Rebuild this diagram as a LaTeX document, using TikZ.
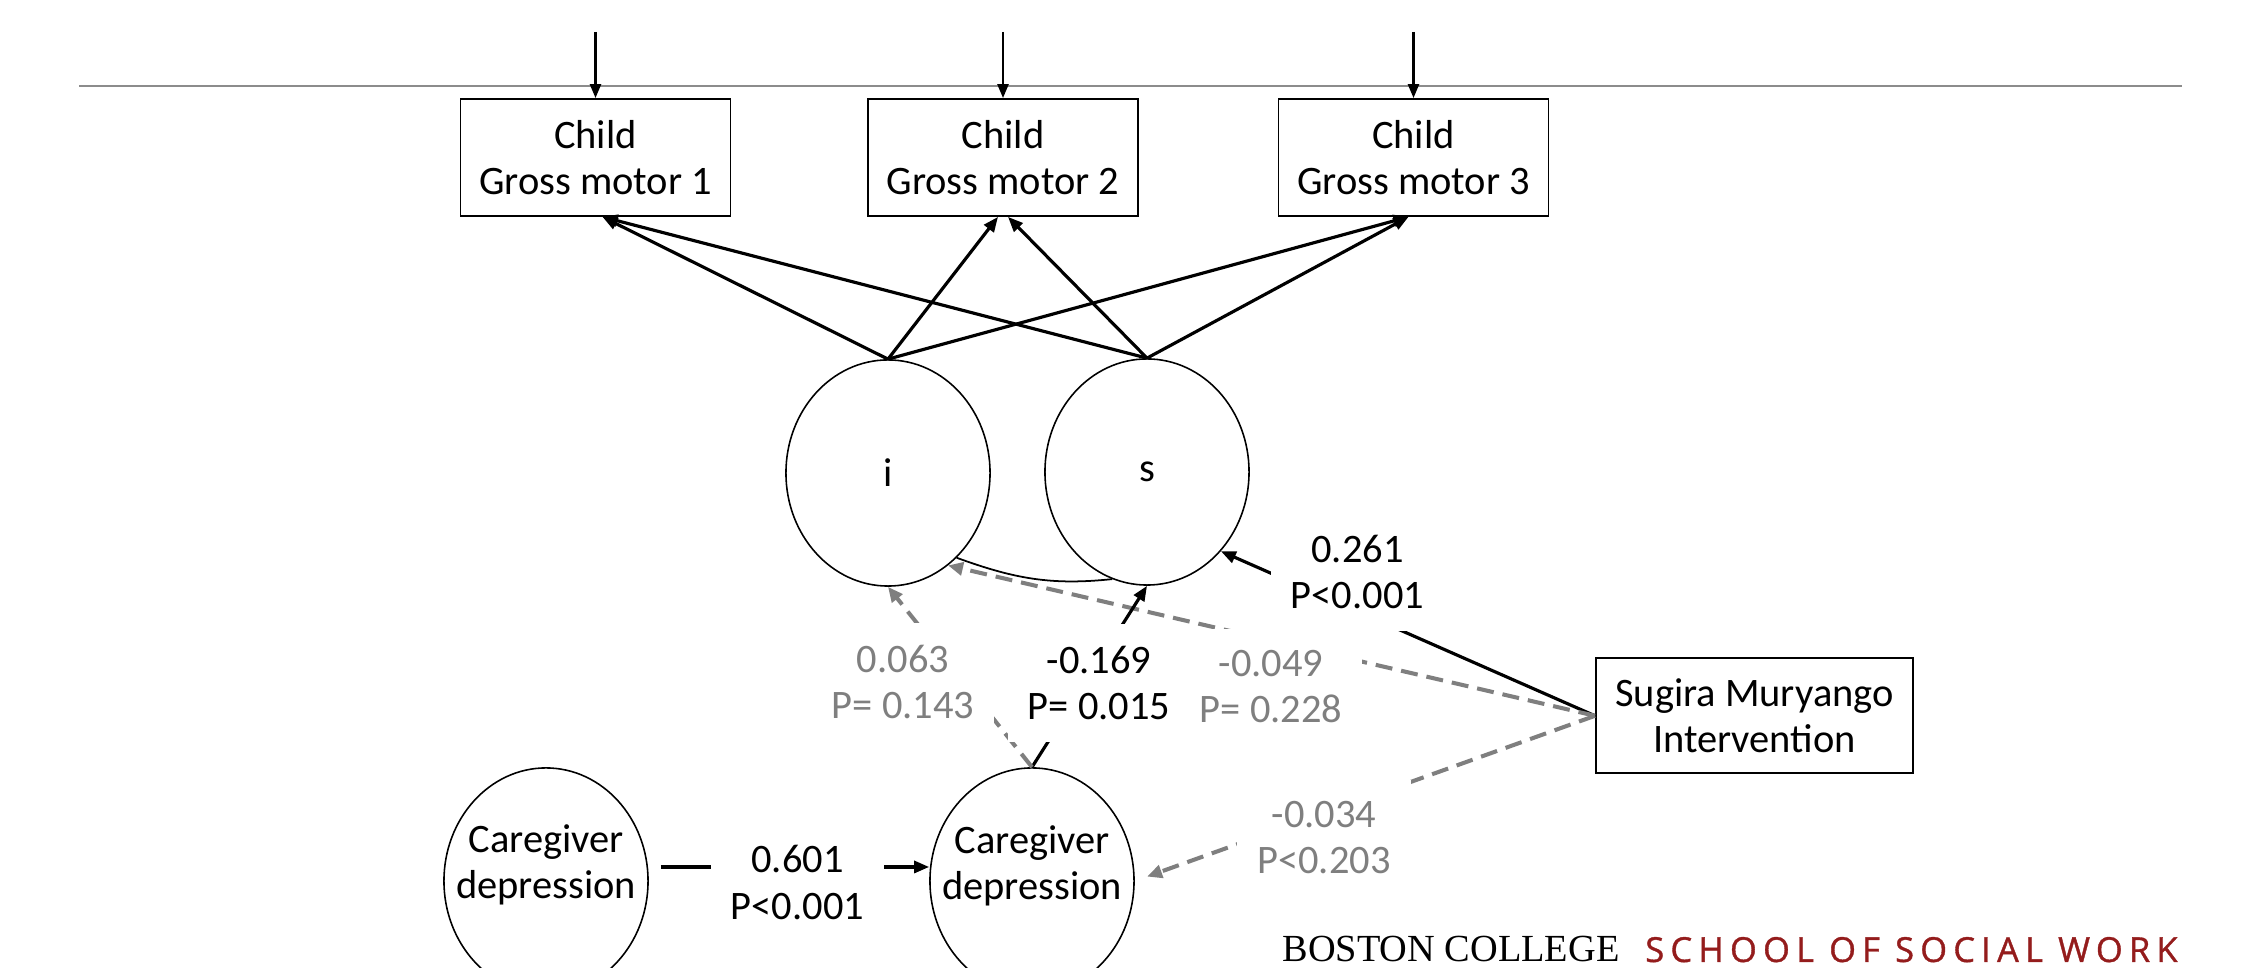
\documentclass[tikz,border=0pt]{standalone}
\usepackage{fontspec}
\setmainfont{Carlito}
\newfontfamily\bcserif{Liberation Serif}
\newfontfamily\bcsans[LetterSpace=18,FakeBold=1]{Open Sans}
\usetikzlibrary{arrows.meta,shapes.geometric}
\definecolor{pathgray}{HTML}{7F7F7F}
\definecolor{rulegray}{HTML}{8C8C8C}
\definecolor{bcred}{HTML}{941C1C}
\tikzset{
  obsbox/.style={draw,line width=0.5pt,minimum width=2.7cm,minimum height=1.17cm,align=center,inner sep=0pt},
  latent/.style={draw,ellipse,line width=0.45pt,minimum width=2.04cm,minimum height=2.26cm,inner sep=0pt},
  sig/.style={line width=0.9pt,-{Triangle[length=0.15cm,width=0.12cm]}},
  nonsig/.style={pathgray,line width=1.15pt,dash pattern=on 0.17cm off 0.09cm,-{Triangle[length=0.15cm,width=0.13cm]}},
  est/.style={fill=white,align=center,inner xsep=0.2cm,inner ysep=0.22cm}
}
\begin{document}
\begin{tikzpicture}[x=0.01cm,y=-0.01cm,font=\fontsize{11.5pt}{13.1pt}\selectfont]
    \useasboundingbox (0,0) rectangle (2250,968);
    \draw[rulegray,line width=0.6pt] (79,86) -- (2182,86);
    \node[obsbox] (cgm1) at (595.5,157.5) {Child\\Gross motor 1};
    \node[obsbox] (cgm2) at (1003,157.5) {Child\\Gross motor 2};
    \node[obsbox] (cgm3) at (1413.5,157.5) {Child\\Gross motor 3};
    \foreach \n/\x in {1/595.5,2/1003,3/1413.5}{
        \coordinate (e\n) at (\x,32);
        \draw[line width=0.7pt,-{Triangle[length=0.14cm,width=0.11cm]}] (e\n) -- (cgm\n.north);
    }
    \node[latent] (i) at (888,473) {i};
    \node[latent] (s) at (1147,472) {s};
    \node[latent,label={[yshift=0.16cm,align=center]center:{Caregiver\\depression}}] (cd1) at (546,881) {};
    \node[latent,label={[yshift=0.15cm,align=center]center:{Caregiver\\depression}}] (cd2) at (1032,881) {};
    \node[obsbox,minimum width=3.17cm,minimum height=1.15cm] (smi) at (1754.5,715.8) {Sugira Muryango\\Intervention};
    \draw[sig] (i.north) -- ([xshift=0.07cm]cgm1.south);
    \draw[sig] (i.north) -- ([xshift=-0.05cm]cgm2.south);
    \draw[sig] (i.north) -- ([xshift=-0.05cm]cgm3.south);
    \draw[sig] (s.north) -- ([xshift=0.07cm]cgm1.south);
    \draw[sig] (s.north) -- ([xshift=0.05cm]cgm2.south);
    \draw[sig] (s.north) -- ([xshift=-0.05cm]cgm3.south);
    \draw[line width=0.5pt] (i.-51) to[out=-20,in=186] (s.-108);
    \draw[sig] (smi.west) -- (s.-47);
    \draw[nonsig] (smi.west) -- (i.-57);
    \draw[nonsig,shorten >=0.13cm] (smi.west) -- (cd2.east);
    \draw[sig] (cd2.north) -- (s.south);
    \draw[nonsig] (cd2.north) -- (i.south);
    \draw[sig,shorten <=0.12cm] ([yshift=0.14cm]cd1.east) -- ([yshift=0.14cm]cd2.west);
    \node[est] (b261) at (1357.5,571.7) {0.261\\P<0.001};
    \node[est] (b169) at (1099,683) {-0.169\\P= 0.015};
    \node[est,text=pathgray] (b063) at (903,682) {0.063\\P= 0.143};
    \node[est,text=pathgray] (b049) at (1271,687) {-0.049\\P= 0.228};
    \node[est,text=pathgray] (b034) at (1324,838) {-0.034\\P<0.203};
    \node[est] (b601) at (797.5,882.5) {0.601\\P<0.001};
    \node[anchor=base west,inner sep=0pt,font=\bcserif\fontsize{10.9pt}{12pt}\selectfont] (bcname) at (1282,962) {BOSTON COLLEGE};
    \node[anchor=base west,inner sep=0pt,text=bcred,font=\bcsans\fontsize{9.8pt}{11pt}\selectfont] (bcssw) at (1644.6,962) {SCHOOL OF SOCIAL WORK};
\end{tikzpicture}
\end{document}
